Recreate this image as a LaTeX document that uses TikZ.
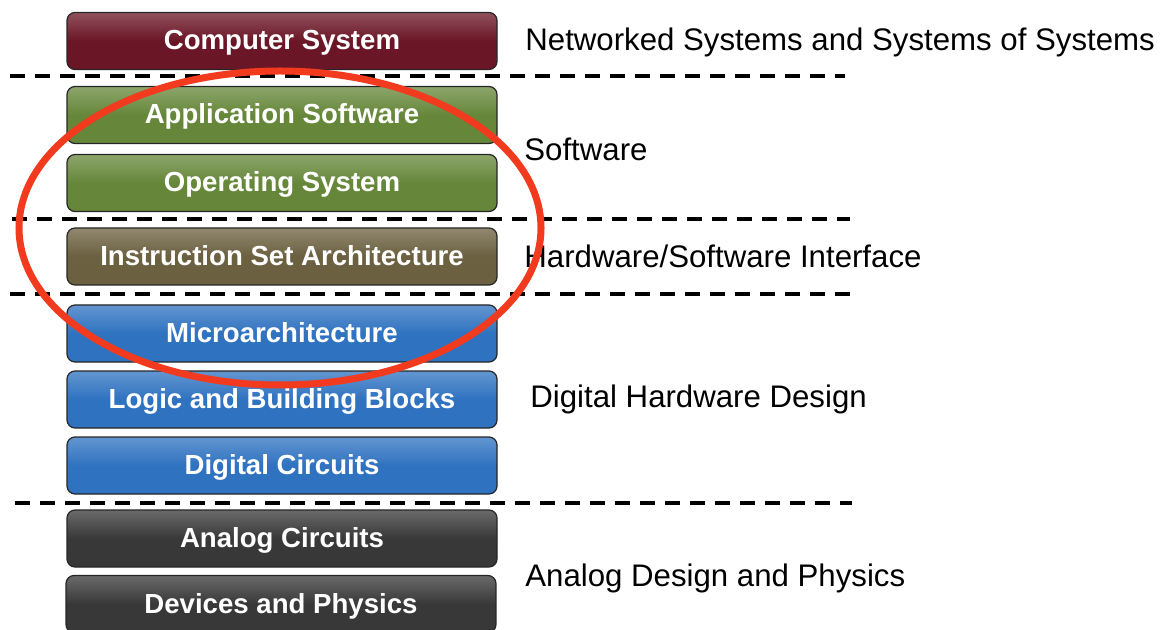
\documentclass[tikz,border=0pt]{standalone}
\usepackage{fontspec}
\setmainfont{Liberation Sans}
\definecolor{cscol}{HTML}{6B1626}
\definecolor{swcol}{HTML}{66873A}
\definecolor{isacol}{HTML}{6B6040}
\definecolor{hwcol}{HTML}{2F72C0}
\definecolor{ancol}{HTML}{383838}
\definecolor{ringcol}{HTML}{F23A1E}
\begin{document}
\begin{tikzpicture}[x=0.5pt,y=-0.5pt,
  layer/.style={draw=black!85, line width=0.6pt, rounded corners=4pt,
    minimum width=215pt, minimum height=28.5pt, text=white,
    text height=1.1em, text depth=0.2em,
    top color=#1!75!white, bottom color=#1, middle color=#1,
    font=\bfseries\fontsize{13.8}{16}\selectfont},
  divider/.style={line width=1.6pt, dash pattern=on 7.5pt off 5pt},
  levellabel/.style={anchor=base west, inner sep=0pt, font=\fontsize{15.6}{18}\selectfont}]
\useasboundingbox (0,0) rectangle (1160,630);
% layers
\node [layer=cscol] (cs) at (282,41) {Computer System};
\node [layer=swcol] (app) at (282,115) {Application Software};
\node [layer=swcol] (os) at (282,183) {Operating System};
\node [layer=isacol] (isa) at (282,256.5) {Instruction Set Architecture};
\node [layer=hwcol] (uarch) at (282,333.5) {Microarchitecture};
\node [layer=hwcol] (logic) at (282,399.5) {Logic and Building Blocks};
\node [layer=hwcol] (dig) at (282,465.5) {Digital Circuits};
\node [layer=ancol] (analog) at (282,538.5) {Analog Circuits};
\node [layer=ancol] (dev) at (281,604) {Devices and Physics};
% dividers
\draw [divider] (10,76) -- (845,76);
\draw [divider] (12,219) -- (850,219);
\draw [divider] (10,294) -- (850,294);
\draw [divider] (15,503) -- (852,503);
% level labels
\node [levellabel] (net) at (525,51) {Networked Systems and Systems of Systems};
\node [levellabel] (sw) at (524,161) {Software};
\node [levellabel] (hsi) at (524,268) {Hardware/Software Interface};
\node [levellabel] (dhd) at (530,407) {Digital Hardware Design};
\node [levellabel] (adp) at (525,586) {Analog Design and Physics};
% ring
\draw [ringcol, line width=3.5pt] (280,228) ellipse [x radius=261, y radius=157];
\end{tikzpicture}
\end{document}
